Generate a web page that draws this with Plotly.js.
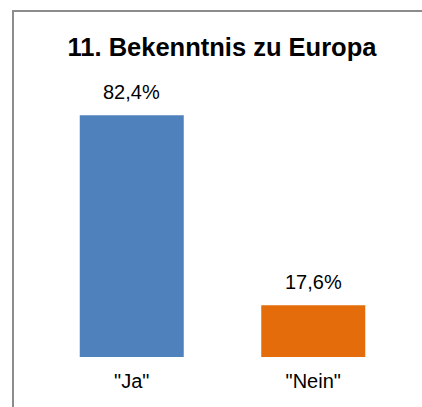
<!DOCTYPE html>
<html>
<head>
<meta charset="utf-8">
<script src="https://cdn.plot.ly/plotly-3.0.1.min.js"></script>
<style>
  html, body { margin: 0; padding: 0; background: #ffffff; overflow: hidden; }
  #chart { width: 422px; height: 407px; }
</style>
</head>
<body>
<div id="chart"></div>
<script>
// ---- data ----
const categories = ['"Ja"', '"Nein"'];
const values = [82.4, 17.6];
const barColors = ['#4F81BD', '#E46C0A'];
const chartTitle = '11. Bekenntnis zu Europa';

// ---- layout constants ----
const W = 422, H = 407;
const M = { l: 41, r: 18, t: 93, b: 50 };
const plotW = W - M.l - M.r, plotH = H - M.t - M.b;
const px = x => (x - M.l) / plotW;
const py = y => (H - M.b - y) / plotH;

const fontFam = '"Liberation Sans", Arial, sans-serif';
const fmt = v => v.toFixed(1).replace('.', ',') + '%';

const trace = {
  type: 'bar',
  x: categories,
  y: values,
  marker: { color: barColors, line: { width: 0 } },
  hoverinfo: 'none'
};

const annotations = categories.map((c, i) => ({
  x: c, y: values[i], xref: 'x', yref: 'y',
  text: fmt(values[i]),
  showarrow: false,
  yanchor: 'bottom',
  yshift: 10,
  font: { family: fontFam, size: 20, color: '#000000' }
}));

const layout = {
  width: W, height: H,
  margin: M,
  paper_bgcolor: '#ffffff',
  plot_bgcolor: '#ffffff',
  showlegend: false,
  bargap: 0.427,
  title: {
    text: '<b>' + chartTitle + '</b>',
    font: { family: fontFam, size: 25.5, color: '#000000' },
    x: 0.526, xanchor: 'center',
    y: 1 - 47 / H, yanchor: 'middle', yref: 'container'
  },
  xaxis: {
    type: 'category',
    range: [-0.5, 1.5],
    showgrid: false, zeroline: false, showline: false,
    ticks: '',
    ticklabelstandoff: 10,
    tickfont: { family: fontFam, size: 20, color: '#000000' },
    fixedrange: true
  },
  yaxis: {
    range: [0, 90],
    visible: false,
    showgrid: false, zeroline: false,
    fixedrange: true
  },
  annotations: annotations,
  shapes: [
    { type: 'line', xref: 'paper', yref: 'paper',
      x0: px(13), x1: px(13), y0: py(11), y1: py(420),
      line: { color: '#8c8c8c', width: 2 } },
    { type: 'line', xref: 'paper', yref: 'paper',
      x0: px(12), x1: px(440), y0: py(11), y1: py(11),
      line: { color: '#8c8c8c', width: 2 } }
  ]
};

Plotly.newPlot('chart', [trace], layout, { displayModeBar: false, staticPlot: true });
</script>
</body>
</html>
